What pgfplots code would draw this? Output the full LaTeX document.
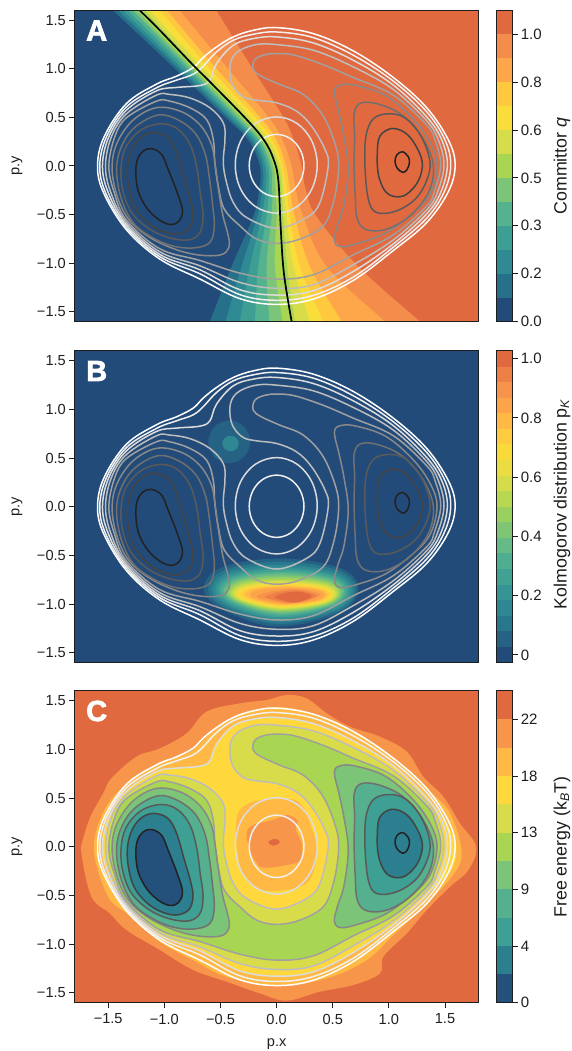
\documentclass[border=0pt]{standalone}
\usepackage{pgfplots}
\usepackage{pgfplotstable}
\usepackage{fontspec}
\setmainfont{Liberation Sans}
\pgfplotsset{compat=1.18}
% palette
\definecolor{qa}{HTML}{224B7A}\definecolor{qb}{HTML}{27708A}\definecolor{qc}{HTML}{2F8A93}
\definecolor{qd}{HTML}{3D9F94}\definecolor{qe}{HTML}{55B28F}\definecolor{qf}{HTML}{7CC478}
\definecolor{qg}{HTML}{A8D653}\definecolor{qh}{HTML}{D7DC4B}\definecolor{qi}{HTML}{F9DD3A}
\definecolor{qj}{HTML}{FFC93F}\definecolor{qk}{HTML}{FEA74A}\definecolor{ql}{HTML}{F48D4B}
\definecolor{qm}{HTML}{E1693F}
\definecolor{ka}{HTML}{224B7A}\definecolor{kb}{HTML}{256284}\definecolor{kc}{HTML}{29778C}
\definecolor{kd}{HTML}{2E8792}\definecolor{ke}{HTML}{369594}\definecolor{kf}{HTML}{41A293}
\definecolor{kg}{HTML}{50AE90}\definecolor{kh}{HTML}{65BA85}\definecolor{ki}{HTML}{7EC576}
\definecolor{kj}{HTML}{9AD05F}\definecolor{kk}{HTML}{B7D850}\definecolor{kl}{HTML}{D5DC4B}
\definecolor{km}{HTML}{EBDD41}\definecolor{kn}{HTML}{FAD93B}\definecolor{ko}{HTML}{FECC3E}
\definecolor{kp}{HTML}{FFB944}\definecolor{kq}{HTML}{FDA44A}\definecolor{kr}{HTML}{F7944B}
\definecolor{ks}{HTML}{ED8047}\definecolor{kt}{HTML}{E1693F}
\definecolor{fa}{HTML}{24507C}\definecolor{fb}{HTML}{2C7F8F}\definecolor{fc}{HTML}{3E9F94}
\definecolor{fd}{HTML}{55B08F}\definecolor{fe}{HTML}{7CC477}\definecolor{ff}{HTML}{A8D653}
\definecolor{fg}{HTML}{D8DC4B}\definecolor{fh}{HTML}{FFD83D}\definecolor{fi}{HTML}{FFB944}
\definecolor{fj}{HTML}{F7954B}\definecolor{fk}{HTML}{E1693F}
\definecolor{frame}{HTML}{1E1E1E}
% contours
\pgfplotstableread[row sep=crcr]{x y\\-1.114 .178\\-1.025 .12\\-.966 -.034\\-.885 -.274\\-.838 -.462\\-.876 -.574\\-.951 -.602\\-1.055 -.547\\-1.159 -.427\\-1.233 -.256\\-1.254 -.068\\-1.239 .068\\-1.188 .154\\}\LoneL
\pgfplotstableread[row sep=crcr]{x y\\1.120 .147\\1.173 .096\\1.182 .027\\1.159 -.041\\1.123 -.065\\1.075 -.024\\1.055 .044\\1.070 .113\\}\LoneR
\pgfplotstableread[row sep=crcr]{x y\\-1.078 .342\\-.966 .29\\-.891 .14\\-.83 -.10\\-.765 -.36\\-.745 -.52\\-.785 -.65\\-.90 -.70\\-1.04 -.66\\-1.17 -.56\\-1.277 -.393\\-1.328 -.137\\-1.318 .07\\-1.26 .23\\-1.174 .32\\}\LtwoL
\pgfplotstableread[row sep=crcr]{x y\\1.025 .386\\1.144 .342\\1.233 .222\\1.298 .034\\1.262 -.154\\1.158 -.291\\1.054 -.315\\.965 -.256\\.906 -.085\\.897 .137\\.921 .308\\}\LtwoR
\pgfplotstableread[row sep=crcr]{x y\\-1.03 .435\\-.88 .38\\-.77 .22\\-.71 -.02\\-.68 -.28\\-.655 -.50\\-.68 -.68\\-.78 -.76\\-.95 -.74\\-1.13 -.65\\-1.29 -.48\\-1.37 -.25\\-1.385 -.01\\-1.34 .20\\-1.21 .37\\}\LthreeL
\pgfplotstableread[row sep=crcr]{x y\\.995 .537\\1.143 .496\\1.277 .325\\1.36 .085\\1.351 -.103\\1.248 -.325\\1.069 -.462\\.891 -.479\\.817 -.342\\.787 0\\.796 .308\\.861 .485\\}\LthreeR
\pgfplotstableread[row sep=crcr]{x y\\-1.05 .525\\-.87 .47\\-.72 .33\\-.635 .12\\-.60 -.11\\-.57 -.40\\-.555 -.62\\-.59 -.78\\-.71 -.84\\-.90 -.83\\-1.10 -.74\\-1.28 -.58\\-1.39 -.31\\-1.425 -.01\\-1.37 .23\\-1.25 .41\\}\LfourL
\pgfplotstableread[row sep=crcr]{x y\\.757 .65\\.921 .632\\1.129 .513\\1.307 .274\\1.396 0\\1.352 -.274\\1.188 -.513\\.980 -.65\\.802 -.656\\.719 -.547\\.70 -.3\\.69 .03\\.695 .3\\.692 .55\\}\LfourR
\pgfplotstableread[row sep=crcr]{x y\\-1.07 .60\\-.85 .56\\-.68 .42\\-.58 .22\\-.545 0\\-.52 -.22\\-.48 -.50\\-.43 -.72\\-.425 -.84\\-.50 -.915\\-.70 -.915\\-.92 -.85\\-1.15 -.72\\-1.33 -.53\\-1.43 -.27\\-1.465 0\\-1.42 .24\\-1.28 .47\\}\LfiveL
\pgfplotstableread[row sep=crcr]{x y\\.515 .76\\.56 .83\\.70 .83\\.98 .718\\1.247 .444\\1.40 .16\\1.426 -.05\\1.36 -.30\\1.218 -.479\\.98 -.684\\.74 -.79\\.57 -.83\\.515 -.76\\.545 -.60\\.60 -.40\\.638 -.03\\.60 .30\\.555 .55\\}\LfiveR
\pgfplotstableread[row sep=crcr]{x y\\0 1.157\\.16 1.14\\.42 1.04\\.683 .91\\1.04 .729\\1.337 .421\\1.411 .267\\1.462 .01\\1.405 -.263\\1.337 -.411\\1.04 -.708\\.683 -.914\\.327 -1.119\\0 -1.163\\-.327 -1.102\\-.683 -.972\\-1.04 -.852\\-1.337 -.558\\-1.444 -.281\\-1.494 0\\-1.441 .301\\-1.337 .496\\-1.07 .667\\-.951 .667\\-.772 .599\\-.624 .479\\-.564 .274\\-.55 .034\\-.52 -.205\\-.466 -.444\\-.327 -.615\\-.178 -.752\\0 -.796\\.208 -.752\\.416 -.615\\.505 -.376\\.55 -.068\\.535 .171\\.416 .513\\.238 .735\\.03 .838\\-.134 .923\\-.208 .992\\-.193 1.095\\-.104 1.145\\}\Lsix
\pgfplotstableread[row sep=crcr]{x y\\0 1.249\\.327 1.191\\.683 1.02\\1.04 .787\\1.337 .465\\1.441 .267\\1.491 .01\\1.435 -.263\\1.337 -.452\\1.04 -.76\\.683 -1.016\\.327 -1.222\\0 -1.259\\-.327 -1.198\\-.683 -1.027\\-1.04 -.883\\-1.337 -.585\\-1.474 -.281\\-1.524 0\\-1.471 .301\\-1.337 .537\\-1.07 .729\\-.951 .736\\-.772 .70\\-.594 .599\\-.475 .445\\-.46 .274\\-.475 .034\\-.446 -.17\\-.386 -.376\\-.267 -.53\\0 -.64\\.267 -.53\\.386 -.376\\.46 0\\.431 .171\\.312 .41\\.178 .564\\0 .65\\-.178 .677\\-.297 .711\\-.386 .821\\-.416 .958\\-.401 1.095\\-.327 1.19\\-.178 1.25\\}\Lseven
\pgfplotstableread[row sep=crcr]{x y\\0 1.328\\.327 1.266\\.683 1.088\\1.04 .832\\1.337 .506\\1.471 .267\\1.521 .01\\1.465 -.263\\1.337 -.493\\1.04 -.801\\.683 -1.085\\.327 -1.283\\0 -1.328\\-.327 -1.273\\-.683 -1.068\\-1.04 -.91\\-1.337 -.609\\-1.497 -.281\\-1.551 0\\-1.494 .301\\-1.337 .575\\-1.07 .773\\-.891 .808\\-.683 .828\\-.594 .883\\-.535 1.054\\-.386 1.242\\-.208 1.311\\}\Leight
\pgfplotstableread[row sep=crcr]{x y\\0 1.379\\.327 1.321\\.683 1.14\\1.04 .873\\1.337 .558\\1.5 .267\\1.551 .01\\1.494 -.263\\1.337 -.537\\1.04 -.835\\.683 -1.143\\.327 -1.331\\0 -1.382\\-.327 -1.324\\-.683 -1.109\\-1.04 -.934\\-1.337 -.633\\-1.521 -.281\\-1.575 0\\-1.515 .301\\-1.337 .609\\-1.07 .804\\-.891 .883\\-.743 .944\\-.654 1.027\\-.535 1.174\\-.386 1.294\\-.208 1.355\\}\Lnine
\pgfplotstableread[row sep=crcr]{x y\\0 1.424\\.327 1.362\\.683 1.184\\1.04 .91\\1.337 .599\\1.53 .267\\1.59 .01\\1.53 -.263\\1.337 -.582\\1.04 -.869\\.683 -1.177\\.327 -1.369\\0 -1.424\\-.327 -1.365\\-.683 -1.163\\-1.04 -.958\\-1.337 -.657\\-1.539 -.281\\-1.595 0\\-1.536 .301\\-1.337 .643\\-1.07 .842\\-.891 .924\\-.743 1.013\\-.654 1.116\\-.535 1.225\\-.386 1.328\\-.208 1.396\\}\Lten
\pgfplotstableread[row sep=crcr]{x y\\0 .505\\.18 .439\\.313 .258\\.362 .01\\.313 -.238\\.18 -.419\\0 -.485\\-.186 -.419\\-.32 -.238\\-.368 .01\\-.32 .258\\-.186 .439\\}\RingA
\pgfplotstableread[row sep=crcr]{x y\\0 .325\\.122 .282\\.211 .165\\.244 .005\\.211 -.155\\.122 -.272\\0 -.315\\-.122 -.272\\-.211 -.155\\-.244 .005\\-.211 .165\\-.122 .282\\}\RingB
\pgfplotstableread[row sep=crcr]{x y\\-1.218 1.6\\-1.04 1.396\\-.743 1.037\\-.594 .866\\-.267 .479\\-.113 .267\\-.03 .079\\.015 -.144\\.036 -.623\\.065 -1.102\\.134 -1.6\\}\Qline
% committor bands
\pgfplotstableread[row sep=crcr]{x y\\-1.825 2\\-1.456 1.6\\-.921 1.02\\-.46 .507\\-.253 .267\\-.149 0\\-.154 -.246\\-.208 -.52\\-.401 -1.034\\-.594 -1.6\\-.73 -2\\5 -2\\5 2\\}\BandA
\pgfplotstableread[row sep=crcr]{x y\\-1.774 2\\-1.411 1.6\\-.885 1.02\\-.431 .507\\-.223 .267\\-.125 0\\-.128 -.246\\-.172 -.52\\-.312 -1.034\\-.455 -1.6\\-.556 -2\\5 -2\\5 2\\}\BandB
\pgfplotstableread[row sep=crcr]{x y\\-1.721 2\\-1.367 1.6\\-.853 1.02\\-.401 .507\\-.199 .267\\-.101 0\\-.098 -.246\\-.134 -.52\\-.238 -1.034\\-.327 -1.6\\-.39 -2\\5 -2\\5 2\\}\BandC
\pgfplotstableread[row sep=crcr]{x y\\-1.67 2\\-1.322 1.6\\-.817 1.02\\-.377 .507\\-.175 .267\\-.077 0\\-.068 -.246\\-.089 -.52\\-.163 -1.034\\-.193 -1.6\\-.214 -2\\5 -2\\5 2\\}\BandD
\pgfplotstableread[row sep=crcr]{x y\\-1.615 2\\-1.277 1.6\\-.787 1.02\\-.351 .507\\-.154 .267\\-.053 0\\-.039 -.246\\-.045 -.52\\-.089 -1.034\\-.065 -1.6\\-.048 -2\\5 -2\\5 2\\}\BandE
\pgfplotstableread[row sep=crcr]{x y\\-1.576 2\\-1.242 1.6\\-.758 1.02\\-.321 .507\\-.134 .267\\-.03 0\\-.009 -.246\\0 -.52\\-.015 -1.034\\.053 -1.6\\.101 -2\\5 -2\\5 2\\}\BandF
\pgfplotstableread[row sep=crcr]{x y\\-1.494 2\\-1.173 1.6\\-.707 1.02\\-.273 .507\\-.095 .267\\.015 0\\.045 -.246\\.059 -.52\\.095 -1.034\\.163 -1.6\\.211 -2\\5 -2\\5 2\\}\BandG
\pgfplotstableread[row sep=crcr]{x y\\-1.447 2\\-1.129 1.6\\-.668 1.02\\-.238 .507\\-.068 .267\\.036 0\\.065 -.246\\.089 -.52\\.149 -1.034\\.297 -1.6\\.402 -2\\5 -2\\5 2\\}\BandH
\pgfplotstableread[row sep=crcr]{x y\\-1.338 2\\-1.04 1.6\\-.609 1.02\\-.193 .507\\-.036 .267\\.053 0\\.089 -.246\\.119 -.52\\.208 -1.034\\.416 -1.6\\.563 -2\\5 -2\\5 2\\}\BandI
\pgfplotstableread[row sep=crcr]{x y\\-1.266 2\\-.974 1.6\\-.55 1.02\\-.149 .507\\0 .267\\.083 0\\.119 -.246\\.163 -.52\\.297 -1.034\\.579 -1.6\\.778 -2\\5 -2\\5 2\\}\BandJ
\pgfplotstableread[row sep=crcr]{x y\\-1.148 2\\-.862 1.6\\-.446 1.02\\-.074 .507\\.053 .267\\.134 0\\.172 -.246\\.238 -.52\\.446 -1.034\\.966 -1.6\\1.333 -2\\5 -2\\5 2\\}\BandK
\pgfplotstableread[row sep=crcr]{x y\\-.75 2\\-.535 1.6\\-.223 1.02\\.059 .507\\.154 .267\\.223 0\\.261 -.246\\.357 -.52\\.728 -1.034\\1.278 -1.6\\1.667 -2\\5 -2\\5 2\\}\BandL
% Kolmogorov blobs
\pgfplotstableread[row sep=crcr]{x y\\-.422 .886\\-.29 .822\\-.235 .667\\-.29 .512\\-.422 .448\\-.554 .512\\-.609 .667\\-.554 .822\\}\SpotA
\pgfplotstableread[row sep=crcr]{x y\\-.41 .73\\-.358 .707\\-.337 .65\\-.358 .593\\-.41 .57\\-.462 .593\\-.483 .65\\-.462 .707\\}\SpotB
\pgfplotstableread[row sep=crcr]{x y\\-.648 -.838\\-.483 -.621\\.04 -.53\\.563 -.628\\.728 -.838\\.563 -1.09\\-.001 -1.23\\-.483 -1.055\\}\BlobA
\pgfplotstableread[row sep=crcr]{x y\\-.609 -.845\\-.451 -.647\\.049 -.564\\.549 -.653\\.707 -.845\\.549 -1.075\\.01 -1.203\\-.451 -1.043\\}\BlobB
\pgfplotstableread[row sep=crcr]{x y\\-.576 -.852\\-.425 -.671\\.054 -.595\\.532 -.677\\.683 -.852\\.532 -1.062\\.016 -1.179\\-.425 -1.033\\}\BlobC
\pgfplotstableread[row sep=crcr]{x y\\-.547 -.857\\-.402 -.691\\.057 -.622\\.515 -.697\\.66 -.857\\.515 -1.048\\.02 -1.155\\-.402 -1.022\\}\BlobD
\pgfplotstableread[row sep=crcr]{x y\\-.52 -.859\\-.381 -.706\\.06 -.642\\.5 -.711\\.639 -.859\\.5 -1.036\\.025 -1.135\\-.381 -1.012\\}\BlobE
\pgfplotstableread[row sep=crcr]{x y\\-.496 -.863\\-.362 -.722\\.061 -.663\\.484 -.727\\.618 -.863\\.484 -1.027\\.028 -1.118\\-.362 -1.004\\}\BlobF
\pgfplotstableread[row sep=crcr]{x y\\-.472 -.866\\-.343 -.737\\.064 -.683\\.471 -.741\\.60 -.866\\.471 -1.017\\.032 -1.10\\-.343 -.996\\}\BlobG
\pgfplotstableread[row sep=crcr]{x y\\-.451 -.873\\-.327 -.754\\.066 -.704\\.458 -.758\\.582 -.873\\.458 -1.01\\.035 -1.087\\-.327 -.991\\}\BlobH
\pgfplotstableread[row sep=crcr]{x y\\-.431 -.878\\-.312 -.769\\.067 -.724\\.445 -.773\\.564 -.878\\.445 -1.003\\.037 -1.073\\-.312 -.986\\}\BlobI
\pgfplotstableread[row sep=crcr]{x y\\-.41 -.884\\-.295 -.786\\.07 -.745\\.435 -.789\\.55 -.884\\.435 -.997\\.041 -1.06\\-.295 -.981\\}\BlobJ
\pgfplotstableread[row sep=crcr]{x y\\-.389 -.888\\-.278 -.799\\.072 -.762\\.421 -.802\\.532 -.888\\.421 -.992\\.044 -1.049\\-.278 -.977\\}\BlobK
\pgfplotstableread[row sep=crcr]{x y\\-.368 -.893\\-.262 -.813\\.073 -.779\\.408 -.815\\.514 -.893\\.408 -.987\\.047 -1.039\\-.262 -.974\\}\BlobL
\pgfplotstableread[row sep=crcr]{x y\\-.348 -.897\\-.247 -.824\\.074 -.793\\.395 -.826\\.496 -.897\\.395 -.982\\.049 -1.029\\-.247 -.97\\}\BlobM
\pgfplotstableread[row sep=crcr]{x y\\-.318 -.899\\-.223 -.834\\.079 -.806\\.38 -.836\\.475 -.899\\.38 -.976\\.055 -1.018\\-.223 -.965\\}\BlobN
\pgfplotstableread[row sep=crcr]{x y\\-.282 -.901\\-.194 -.842\\.085 -.817\\.363 -.844\\.451 -.901\\.363 -.97\\.063 -1.008\\-.194 -.96\\}\BlobO
\pgfplotstableread[row sep=crcr]{x y\\-.238 -.904\\-.158 -.852\\.095 -.83\\.348 -.854\\.428 -.904\\.348 -.964\\.075 -.998\\-.158 -.956\\}\BlobP
\pgfplotstableread[row sep=crcr]{x y\\-.178 -.921\\-.064 -.873\\.136 -.844\\.289 -.863\\.392 -.905\\.278 -.962\\.107 -.991\\-.075 -.956\\}\BlobQ
\pgfplotstableread[row sep=crcr]{x y\\-.104 -.926\\-.012 -.884\\.15 -.858\\.274 -.875\\.357 -.913\\.265 -.962\\.127 -.988\\-.021 -.957\\}\BlobR
\pgfplotstableread[row sep=crcr]{x y\\-.015 -.93\\.05 -.894\\.165 -.871\\.253 -.886\\.312 -.919\\.247 -.961\\.149 -.984\\.044 -.957\\}\BlobS
% free energy regions
\pgfplotstableread[row sep=crcr]{x y\\.089 1.559\\.267 1.525\\.446 1.371\\.654 1.234\\.921 1.131\\1.159 .977\\1.307 .72\\1.485 .515\\1.634 .241\\1.777 0\\1.708 -.238\\1.545 -.409\\1.337 -.649\\1.159 -.888\\.951 -1.128\\.921 -1.299\\.683 -1.419\\.386 -1.487\\.089 -1.579\\-.149 -1.504\\-.446 -1.384\\-.743 -1.264\\-1.04 -1.059\\-1.337 -.854\\-1.485 -.683\\-1.649 -.512\\-1.738 -.067\\-1.717 .104\\-1.658 .31\\-1.545 .549\\-1.471 .703\\-1.248 .926\\-1.04 1.011\\-.802 1.165\\-.624 1.388\\-.327 1.473\\-.089 1.508\\}\FreeJ
\pgfplotstableread[row sep=crcr]{x y\\.089 1.432\\.446 1.32\\.743 1.148\\1.04 .909\\1.337 .6\\1.545 .344\\1.649 -.067\\1.56 -.306\\1.337 -.58\\1.04 -.905\\.802 -1.162\\.446 -1.35\\0 -1.429\\-.446 -1.333\\-.743 -1.162\\-1.04 -.974\\-1.337 -.683\\-1.5 -.512\\-1.625 -.067\\-1.575 .275\\-1.426 .549\\-1.159 .789\\-.921 .909\\-.743 .994\\-.594 1.165\\-.386 1.336\\-.178 1.405\\}\FreeI
\pgfplotstableread[row sep=crcr]{x y\\0 1.335\\.327 1.266\\.683 1.088\\1.04 .832\\1.337 .506\\1.5 .267\\1.6 0\\1.55 -.25\\1.337 -.493\\1.04 -.801\\.683 -1.085\\.327 -1.283\\0 -1.328\\-.327 -1.273\\-.683 -1.068\\-1.04 -.91\\-1.337 -.609\\-1.497 -.281\\-1.551 0\\-1.494 .301\\-1.337 .575\\-1.07 .773\\-.891 .808\\-.683 .828\\-.594 .883\\-.535 1.054\\-.386 1.242\\-.208 1.311\\}\FreeH
\pgfplotstableread[row sep=crcr]{x y\\0 .488\\.163 .481\\.253 .378\\.312 .19\\.362 -.033\\.312 -.306\\.208 -.409\\0 -.45\\-.178 -.426\\-.312 -.238\\-.357 .036\\-.362 .241\\-.327 .378\\-.208 .464\\}\HillA
\pgfplotstableread[row sep=crcr]{x y\\-.267 .139\\-.208 .224\\-.03 .275\\.089 .327\\.184 .275\\.172 .173\\.223 .036\\.214 -.135\\.089 -.187\\-.089 -.214\\-.163 -.187\\-.238 -.033\\}\HillB
\pgfplotstableread[row sep=crcr]{x y\\-.074 .046\\-.03 .08\\.018 .07\\.024 .036\\-.03 .012\\}\HillC
% line colours
\definecolor{la}{HTML}{222222}\definecolor{lb}{HTML}{444444}\definecolor{lc}{HTML}{5A5A5A}
\definecolor{ld}{HTML}{707070}\definecolor{le}{HTML}{888888}\definecolor{lf}{HTML}{A0A0A0}
\definecolor{lg}{HTML}{BDBDBD}\definecolor{lh}{HTML}{DCDCDC}\definecolor{li}{HTML}{F0F0F0}
\definecolor{lj}{HTML}{FFFFFF}
\pgfplotsset{
  fld/.style={draw=none,fill=#1,smooth cycle,tension=.6},
  ctr/.style={draw=#1,line width=1.5pt,smooth cycle,tension=.6,fill=none},
  mainax/.style={scale only axis,width=404.2pt,xmin=-1.8,xmax=1.8,ymin=-1.6,ymax=1.6,
    axis on top,axis line style={line width=1pt,draw=frame},
    tick style={line width=1pt,draw=frame},tick align=outside,major tick length=5pt,
    ytick={-1.5,-1,-.5,0,.5,1,1.5},
    yticklabels={−1.5,−1.0,−0.5,0.0,0.5,1.0,1.5},
    ytick pos=left,
    ticklabel style={font=\fontsize{14.6}{16}\selectfont,text=frame},
    yticklabel style={inner sep=3.5pt},
    xticklabel style={inner sep=2pt,yshift=-4pt}},
  cbar/.style={scale only axis,width=16.7pt,xmin=0,xmax=1,xtick=\empty,
    axis on top,axis line style={line width=1pt,draw=frame},
    tick style={line width=1pt,draw=frame},tick align=outside,major tick length=5pt,
    ytick pos=right,yticklabel pos=right,
    ticklabel style={font=\fontsize{15}{16}\selectfont,text=frame},
    yticklabel style={inner sep=3pt,anchor=west}},
}
\newcommand{\contours}{%
  \addplot[ctr=lj] table {\Lten};
  \addplot[ctr=li] table {\Lnine};
  \addplot[ctr=lh] table {\Leight};
  \addplot[ctr=lg] table {\Lseven};
  \addplot[ctr=lf] table {\Lsix};
  \addplot[ctr=le] table {\LfiveL};
  \addplot[ctr=le] table {\LfiveR};
  \addplot[ctr=ld] table {\LfourL};
  \addplot[ctr=ld] table {\LfourR};
  \addplot[ctr=lc] table {\LthreeL};
  \addplot[ctr=lc] table {\LthreeR};
  \addplot[ctr=lb] table {\LtwoL};
  \addplot[ctr=lb] table {\LtwoR};
  \addplot[ctr=la] table {\LoneL};
  \addplot[ctr=la] table {\LoneR};
  \addplot[ctr=lh] table {\RingA};
  \addplot[ctr=li] table {\RingB};
}
\newcommand{\lettermark}[2]{\node[anchor=west,text=white,inner sep=0pt] at (#1) {\fontsize{29}{30}\selectfont\bfseries\addfontfeature{FakeBold=2.5}#2};}
\newcommand{\cblabel}[2]{\node[rotate=90,text=frame,font=\fontsize{17.8}{20}\selectfont] at (#1) {#2};}
\newcommand{\block}[3]{\addplot[draw=none,fill=#1] coordinates {(0,#2)(1,#2)(1,#3)(0,#3)};}
\begin{document}
\begin{tikzpicture}[x=1pt,y=1pt]
\path[use as bounding box] (0,0) rectangle (571,1051);
% ---------- A
\begin{axis}[mainax,at={(74.5pt,729.5pt)},anchor=south west,height=311pt,xtick=\empty,
  axis background/.style={fill=qa}]
  \addplot[fld=qb] table {\BandA};
  \addplot[fld=qc] table {\BandB};
  \addplot[fld=qd] table {\BandC};
  \addplot[fld=qe] table {\BandD};
  \addplot[fld=qf] table {\BandE};
  \addplot[fld=qg] table {\BandF};
  \addplot[fld=qh] table {\BandG};
  \addplot[fld=qi] table {\BandH};
  \addplot[fld=qj] table {\BandI};
  \addplot[fld=qk] table {\BandJ};
  \addplot[fld=ql] table {\BandK};
  \addplot[fld=qm] table {\BandL};
  \contours
  \addplot[draw=black,line width=1.7pt,smooth,tension=.6] table {\Qline};
\end{axis}
% ---------- B
\begin{axis}[mainax,at={(74.5pt,388.5pt)},anchor=south west,height=311.5pt,xtick=\empty,
  axis background/.style={fill=ka}]
  \addplot[fld=kb] table {\SpotA};
  \addplot[fld=kd] table {\SpotB};
  \addplot[fld=kb] table {\BlobA};
  \addplot[fld=kc] table {\BlobB};
  \addplot[fld=kd] table {\BlobC};
  \addplot[fld=ke] table {\BlobD};
  \addplot[fld=kf] table {\BlobE};
  \addplot[fld=kg] table {\BlobF};
  \addplot[fld=kh] table {\BlobG};
  \addplot[fld=ki] table {\BlobH};
  \addplot[fld=kj] table {\BlobI};
  \addplot[fld=kk] table {\BlobJ};
  \addplot[fld=kl] table {\BlobK};
  \addplot[fld=km] table {\BlobL};
  \addplot[fld=kn] table {\BlobM};
  \addplot[fld=ko] table {\BlobN};
  \addplot[fld=kp] table {\BlobO};
  \addplot[fld=kq] table {\BlobP};
  \addplot[fld=kr] table {\BlobQ};
  \addplot[fld=ks] table {\BlobR};
  \addplot[fld=kt] table {\BlobS};
  \contours
\end{axis}
% ---------- C
\begin{axis}[mainax,at={(74.5pt,48.3pt)},anchor=south west,height=311.7pt,
  xtick={-1.5,-1,-.5,0,.5,1,1.5},xticklabels={−1.5,−1.0,−0.5,0.0,0.5,1.0,1.5},xtick pos=bottom,
  axis background/.style={fill=fk}]
  \addplot[fld=fj] table {\FreeJ};
  \addplot[fld=fi] table {\FreeI};
  \addplot[fld=fh] table {\FreeH};
  \addplot[fld=fg] table {\Lseven};
  \addplot[fld=ff] table {\Lsix};
  \addplot[fld=fe] table {\LfiveL};
  \addplot[fld=fe] table {\LfiveR};
  \addplot[fld=fd] table {\LfourL};
  \addplot[fld=fd] table {\LfourR};
  \addplot[fld=fc] table {\LthreeL};
  \addplot[fld=fc] table {\LthreeR};
  \addplot[fld=fb] table {\LtwoL};
  \addplot[fld=fb] table {\LtwoR};
  \addplot[fld=fa] table {\LoneL};
  \addplot[fld=fi] table {\HillA};
  \addplot[fld=fj] table {\HillB};
  \addplot[fld=fk] table {\HillC};
  \contours
\end{axis}
% ---------- colour bars
\begin{axis}[cbar,at={(496pt,729.5pt)},anchor=south west,height=311pt,ymin=0,ymax=1.04,
  ytick={0,.16,.32,.48,.64,.8,.96},yticklabels={0.0,0.2,0.3,0.5,0.6,0.8,1.0}]
  \block{qa}{0}{.08}\block{qb}{.08}{.16}\block{qc}{.16}{.24}\block{qd}{.24}{.32}
  \block{qe}{.32}{.4}\block{qf}{.4}{.48}\block{qg}{.48}{.56}\block{qh}{.56}{.64}
  \block{qi}{.64}{.72}\block{qj}{.72}{.8}\block{qk}{.8}{.88}\block{ql}{.88}{.96}\block{qm}{.96}{1.04}
\end{axis}
\begin{axis}[cbar,at={(496pt,388.5pt)},anchor=south west,height=311.5pt,ymin=-.0258,ymax=1.026,
  ytick={0,.2,.4,.6,.8,1},yticklabels={0,0.2,0.4,0.6,0.8,1.0}]
  \block{ka}{-.0258}{.0268}\block{kb}{.0268}{.0794}\block{kc}{.0794}{.132}\block{kd}{.132}{.1846}
  \block{ke}{.1846}{.2372}\block{kf}{.2372}{.2898}\block{kg}{.2898}{.3424}\block{kh}{.3424}{.395}
  \block{ki}{.395}{.4476}\block{kj}{.4476}{.5002}\block{kk}{.5002}{.5528}\block{kl}{.5528}{.6054}
  \block{km}{.6054}{.658}\block{kn}{.658}{.7106}\block{ko}{.7106}{.7632}\block{kp}{.7632}{.8158}
  \block{kq}{.8158}{.8684}\block{kr}{.8684}{.921}\block{ks}{.921}{.9736}\block{kt}{.9736}{1.026}
\end{axis}
\begin{axis}[cbar,at={(496pt,48.3pt)},anchor=south west,height=311.7pt,ymin=0,ymax=24.2,
  ytick={0,4.4,8.8,13.2,17.6,22},yticklabels={0,4,9,13,18,22}]
  \block{fa}{0}{2.2}\block{fb}{2.2}{4.4}\block{fc}{4.4}{6.6}\block{fd}{6.6}{8.8}
  \block{fe}{8.8}{11}\block{ff}{11}{13.2}\block{fg}{13.2}{15.4}\block{fh}{15.4}{17.6}
  \block{fi}{17.6}{19.8}\block{fj}{19.8}{22}\block{fk}{22}{24.2}
\end{axis}
% ---------- text
\lettermark{86,1020.5}{A}
\lettermark{86,680}{B}
\lettermark{86,340}{C}
\node[rotate=90,text=frame,font=\fontsize{14.6}{16}\selectfont] at (17,885) {p.y};
\node[rotate=90,text=frame,font=\fontsize{14.6}{16}\selectfont] at (17,544) {p.y};
\node[rotate=90,text=frame,font=\fontsize{14.6}{16}\selectfont] at (17,204) {p.y};
\node[text=frame,font=\fontsize{14.6}{16}\selectfont] at (276.7,7) {p.x};
\cblabel{562,885}{Committor \textit{q}}
\cblabel{562,547}{Kolmogorov distribution p\textsubscript{\textit{K}}}
\cblabel{562,204}{Free energy (k\textsubscript{\textit{B}}T)}
\end{tikzpicture}
\end{document}
